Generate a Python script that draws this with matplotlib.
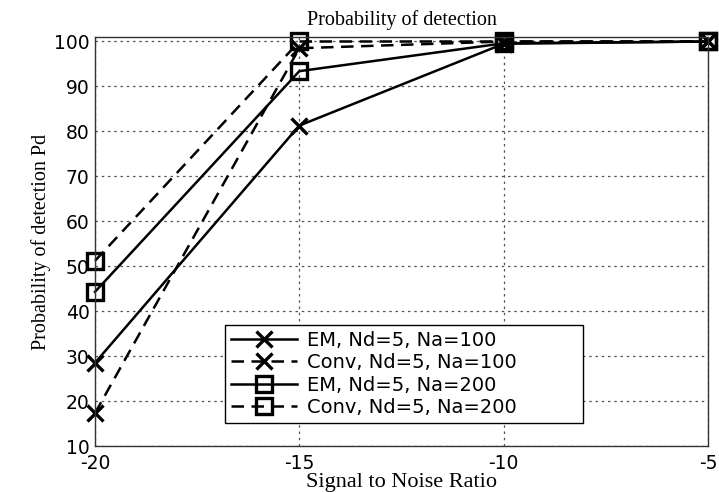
import matplotlib
matplotlib.use("Agg")
import matplotlib.pyplot as plt

plt.rcParams["axes.unicode_minus"] = False

snr = [-20, -15, -10, -5]
em_na100 = [28.5, 81.3, 99.5, 100]
conv_na100 = [17.3, 98.5, 100, 100]
em_na200 = [44.3, 93.4, 99.6, 100]
conv_na200 = [51.2, 100, 100, 100]
labels = ["EM, Nd=5, Na=100", "Conv, Nd=5, Na=100", "EM, Nd=5, Na=200", "Conv, Nd=5, Na=200"]
yticks = list(range(10, 101, 10))
xticks = [-20, -15, -10, -5]

fig = plt.figure(figsize=(7.19, 4.92), dpi=100)
ax = fig.add_axes([95/719, 1-446/492, (708-95)/719, (446-37)/492])

kw = dict(color="black", linewidth=1.8, markeredgewidth=2.4, markerfacecolor="none", clip_on=False)
ax.plot(snr, em_na100, "-", marker="x", markersize=11, label=labels[0], **kw)
ax.plot(snr, conv_na100, "--", marker="x", markersize=11, label=labels[1], dashes=(5, 3), **kw)
ax.plot(snr, em_na200, "-", marker="s", markersize=12, label=labels[2], **kw)
ax.plot(snr, conv_na200, "--", marker="s", markersize=12, label=labels[3], dashes=(5, 3), **kw)

ax.set_xlim(-20, -5)
ax.set_ylim(10, 101)
ax.set_xticks(xticks)
ax.set_yticks(yticks)
ax.grid(True, color="#555555", linestyle=(0, (2, 3)), linewidth=0.9)
ax.tick_params(axis="y", direction="in", length=0, labelsize=13.5, pad=4)
ax.tick_params(axis="x", direction="in", length=0, labelsize=13.5, pad=6)
for lab in ax.get_xticklabels() + ax.get_yticklabels():
    lab.set_fontfamily("DejaVu Sans")
for s in ax.spines.values():
    s.set_linewidth(1.0)
    s.set_color("#333333")

ax.set_title("Probability of detection", fontfamily="Liberation Serif", fontsize=14.5, pad=9)
ax.set_xlabel("Signal to Noise Ratio", fontfamily="Liberation Serif", fontsize=16, labelpad=0)
ax.set_ylabel("Probability of detection Pd", fontfamily="Liberation Serif", fontsize=14.5, labelpad=2)

x0 = (225-95)/613
y0 = (446-423)/409
w = (583-225)/613
h = (423-325)/409
leg = ax.legend(loc="lower left", bbox_to_anchor=(x0, y0, w, h), mode="expand",
                prop={"family": "DejaVu Sans", "size": 14}, frameon=True, fancybox=False,
                edgecolor="black", framealpha=1, borderpad=0.3, labelspacing=0.18,
                handlelength=3.4, handletextpad=0.5, borderaxespad=0)
leg.get_frame().set_linewidth(1.0)

fig.savefig("out.png", dpi=100)
